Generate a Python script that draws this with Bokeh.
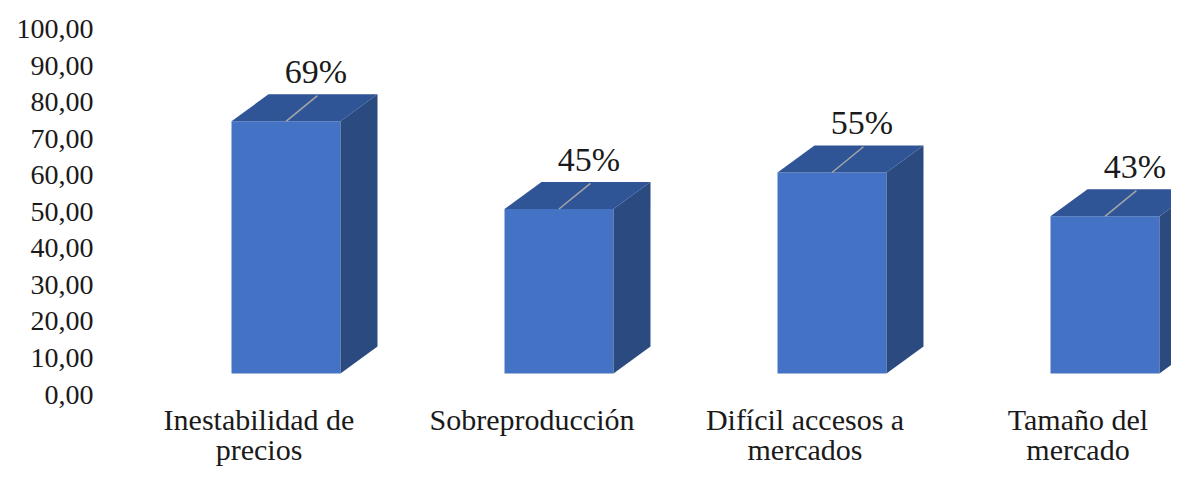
from bokeh.plotting import figure
from bokeh.models import Range1d, FixedTicker
from bokeh.core.properties import value
from bokeh.embed import file_html
from bokeh.resources import INLINE

# ---- data ----
categories = ["Inestabilidad de\nprecios", "Sobreproducción", "Difícil accesos a\nmercados", "Tamaño del\nmercado"]
values = [69, 45, 55, 43]
labels = ["69%", "45%", "55%", "43%"]
y_ticks = [0, 10, 20, 30, 40, 50, 60, 70, 80, 90, 100]
y_tick_labels = ["0,00", "10,00", "20,00", "30,00", "40,00", "50,00", "60,00", "70,00", "80,00", "90,00", "100,00"]

# ---- style / geometry (not data) ----
FRONT = "#4472C4"
TOP = "#2F5597"
SIDE = "#2A4A80"
FONT = "Liberation Serif"
TXT = "#1a1a1a"
base = 5.75                 # floor offset of 3D front face (value units)
fl, fr = -0.1007, 0.2985    # front face left/right offsets from category position
dx, dy = 0.1355, 7.4        # 3D depth offsets
cat_label_y = -2.3          # top of category labels (value units, below floor)

p = figure(width=1171, height=472, output_backend="svg", toolbar_location=None,
           x_axis_location=None,
           x_range=Range1d(-0.5879, 3.3425), y_range=Range1d(-21.34, 107.80),
           min_border_left=98, min_border_right=0, min_border_top=0, min_border_bottom=0)
p.outline_line_color = None
p.xgrid.visible = False
p.ygrid.visible = False
p.background_fill_color = "white"
p.border_fill_color = "white"

xs_pos = list(range(len(values)))
L = [x + fl for x in xs_pos]
R = [x + fr for x in xs_pos]
B = [base for _ in values]
T = [base + v for v in values]

# front faces
p.quad(left=L, right=R, bottom=B, top=T, fill_color=FRONT, line_color=None)
# top faces
top_xs = [[l, r, r + dx, l + dx] for l, r in zip(L, R)]
top_ys = [[t, t, t + dy, t + dy] for t in T]
p.patches(top_xs, top_ys, fill_color=TOP, line_color=None)
# side faces
side_xs = [[r, r + dx, r + dx, r] for r in R]
side_ys = [[b, b + dy, t + dy, t] for b, t in zip(B, T)]
p.patches(side_xs, side_ys, fill_color=SIDE, line_color=None)

# leader lines
fc = [(l + r) / 2 for l, r in zip(L, R)]
lead_xs = [[c, c + dx * 0.85] for c in fc]
lead_ys = [[t, t + dy * 0.95] for t in T]
p.multi_line(lead_xs, lead_ys, line_color="#A6A6A6", line_width=1.5)

# data labels
p.text(x=[c + 0.11 for c in fc], y=[t + dy + 6.2 for t in T], text=labels,
       text_font=value(FONT), text_font_size="34px", text_color=TXT,
       text_align="center", text_baseline="middle")

# category labels (placed by the x scale)
p.text(x=xs_pos, y=[cat_label_y] * len(xs_pos), text=categories,
       text_font=value(FONT), text_font_size="30px", text_color=TXT,
       text_align="center", text_baseline="top", text_line_height=0.92)

# y axis
ya = p.yaxis[0]
ya.ticker = FixedTicker(ticks=y_ticks)
ya.major_label_overrides = {t: s for t, s in zip(y_ticks, y_tick_labels)}
ya.axis_line_color = None
ya.major_tick_line_color = None
ya.minor_tick_line_color = None
ya.major_tick_out = 0
ya.major_tick_in = 0
ya.minor_tick_out = 0
ya.major_label_standoff = 5
ya.major_label_text_font = FONT
ya.major_label_text_font_size = "28px"
ya.major_label_text_color = TXT

open("out.html", "w").write(file_html(p, INLINE))
